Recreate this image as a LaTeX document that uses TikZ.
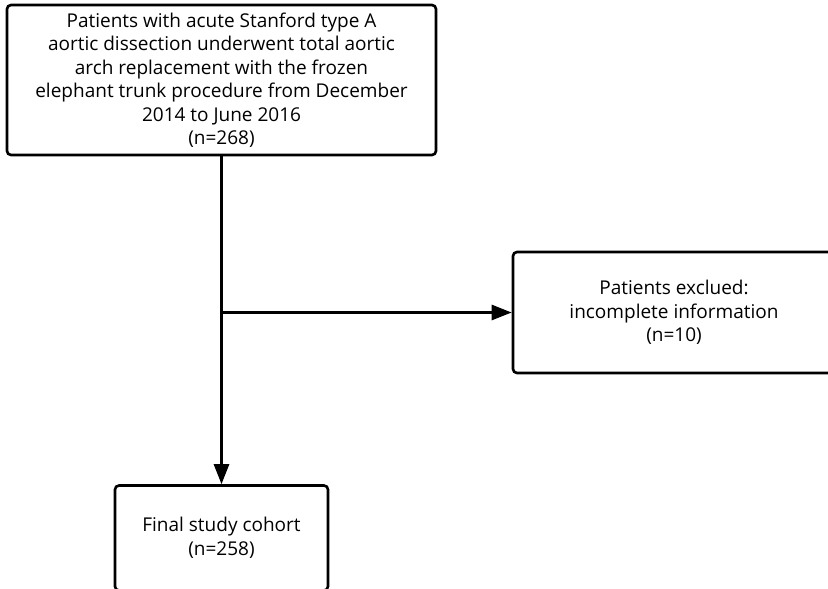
\documentclass[tikz,border=0pt]{standalone}
\usepackage{fontspec}
\setmainfont{Open Sans}
\usetikzlibrary{arrows.meta}
\tikzset{
  box/.style={draw=black, line width=2.6pt, rounded corners=4pt, align=center, inner sep=0pt,
    font=\fontsize{19}{23.5}\selectfont},
  conn/.style={line width=2.6pt, -{Triangle[length=20pt,width=15pt]}},
}
\begin{document}
\begin{tikzpicture}[x=1pt,y=-1pt]
\useasboundingbox (0,0) rectangle (828,589);
\clip (0,0) rectangle (828,589);
\fill[white] (0,0) rectangle (828,589);
\node[box, minimum width=429pt, minimum height=150pt] (top) at (221.5,80)
  {Patients with acute Stanford type A\\aortic dissection underwent total aortic\\arch replacement with the frozen\\elephant trunk procedure from December\\2014 to June 2016\\(n=268)};
\node[box, minimum width=322pt, minimum height=121pt] (excl) at (674,312.5)
  {Patients exclued:\\incomplete information\\(n=10)};
\node[box, minimum width=213pt, minimum height=105pt] (final) at (221.5,538)
  {Final study cohort\\(n=258)};
\coordinate (branch) at (top.south |- excl.west);
\draw[conn] (top.south) -- (final.north);
\draw[conn] (branch) -- (excl.west);
\end{tikzpicture}
\end{document}
